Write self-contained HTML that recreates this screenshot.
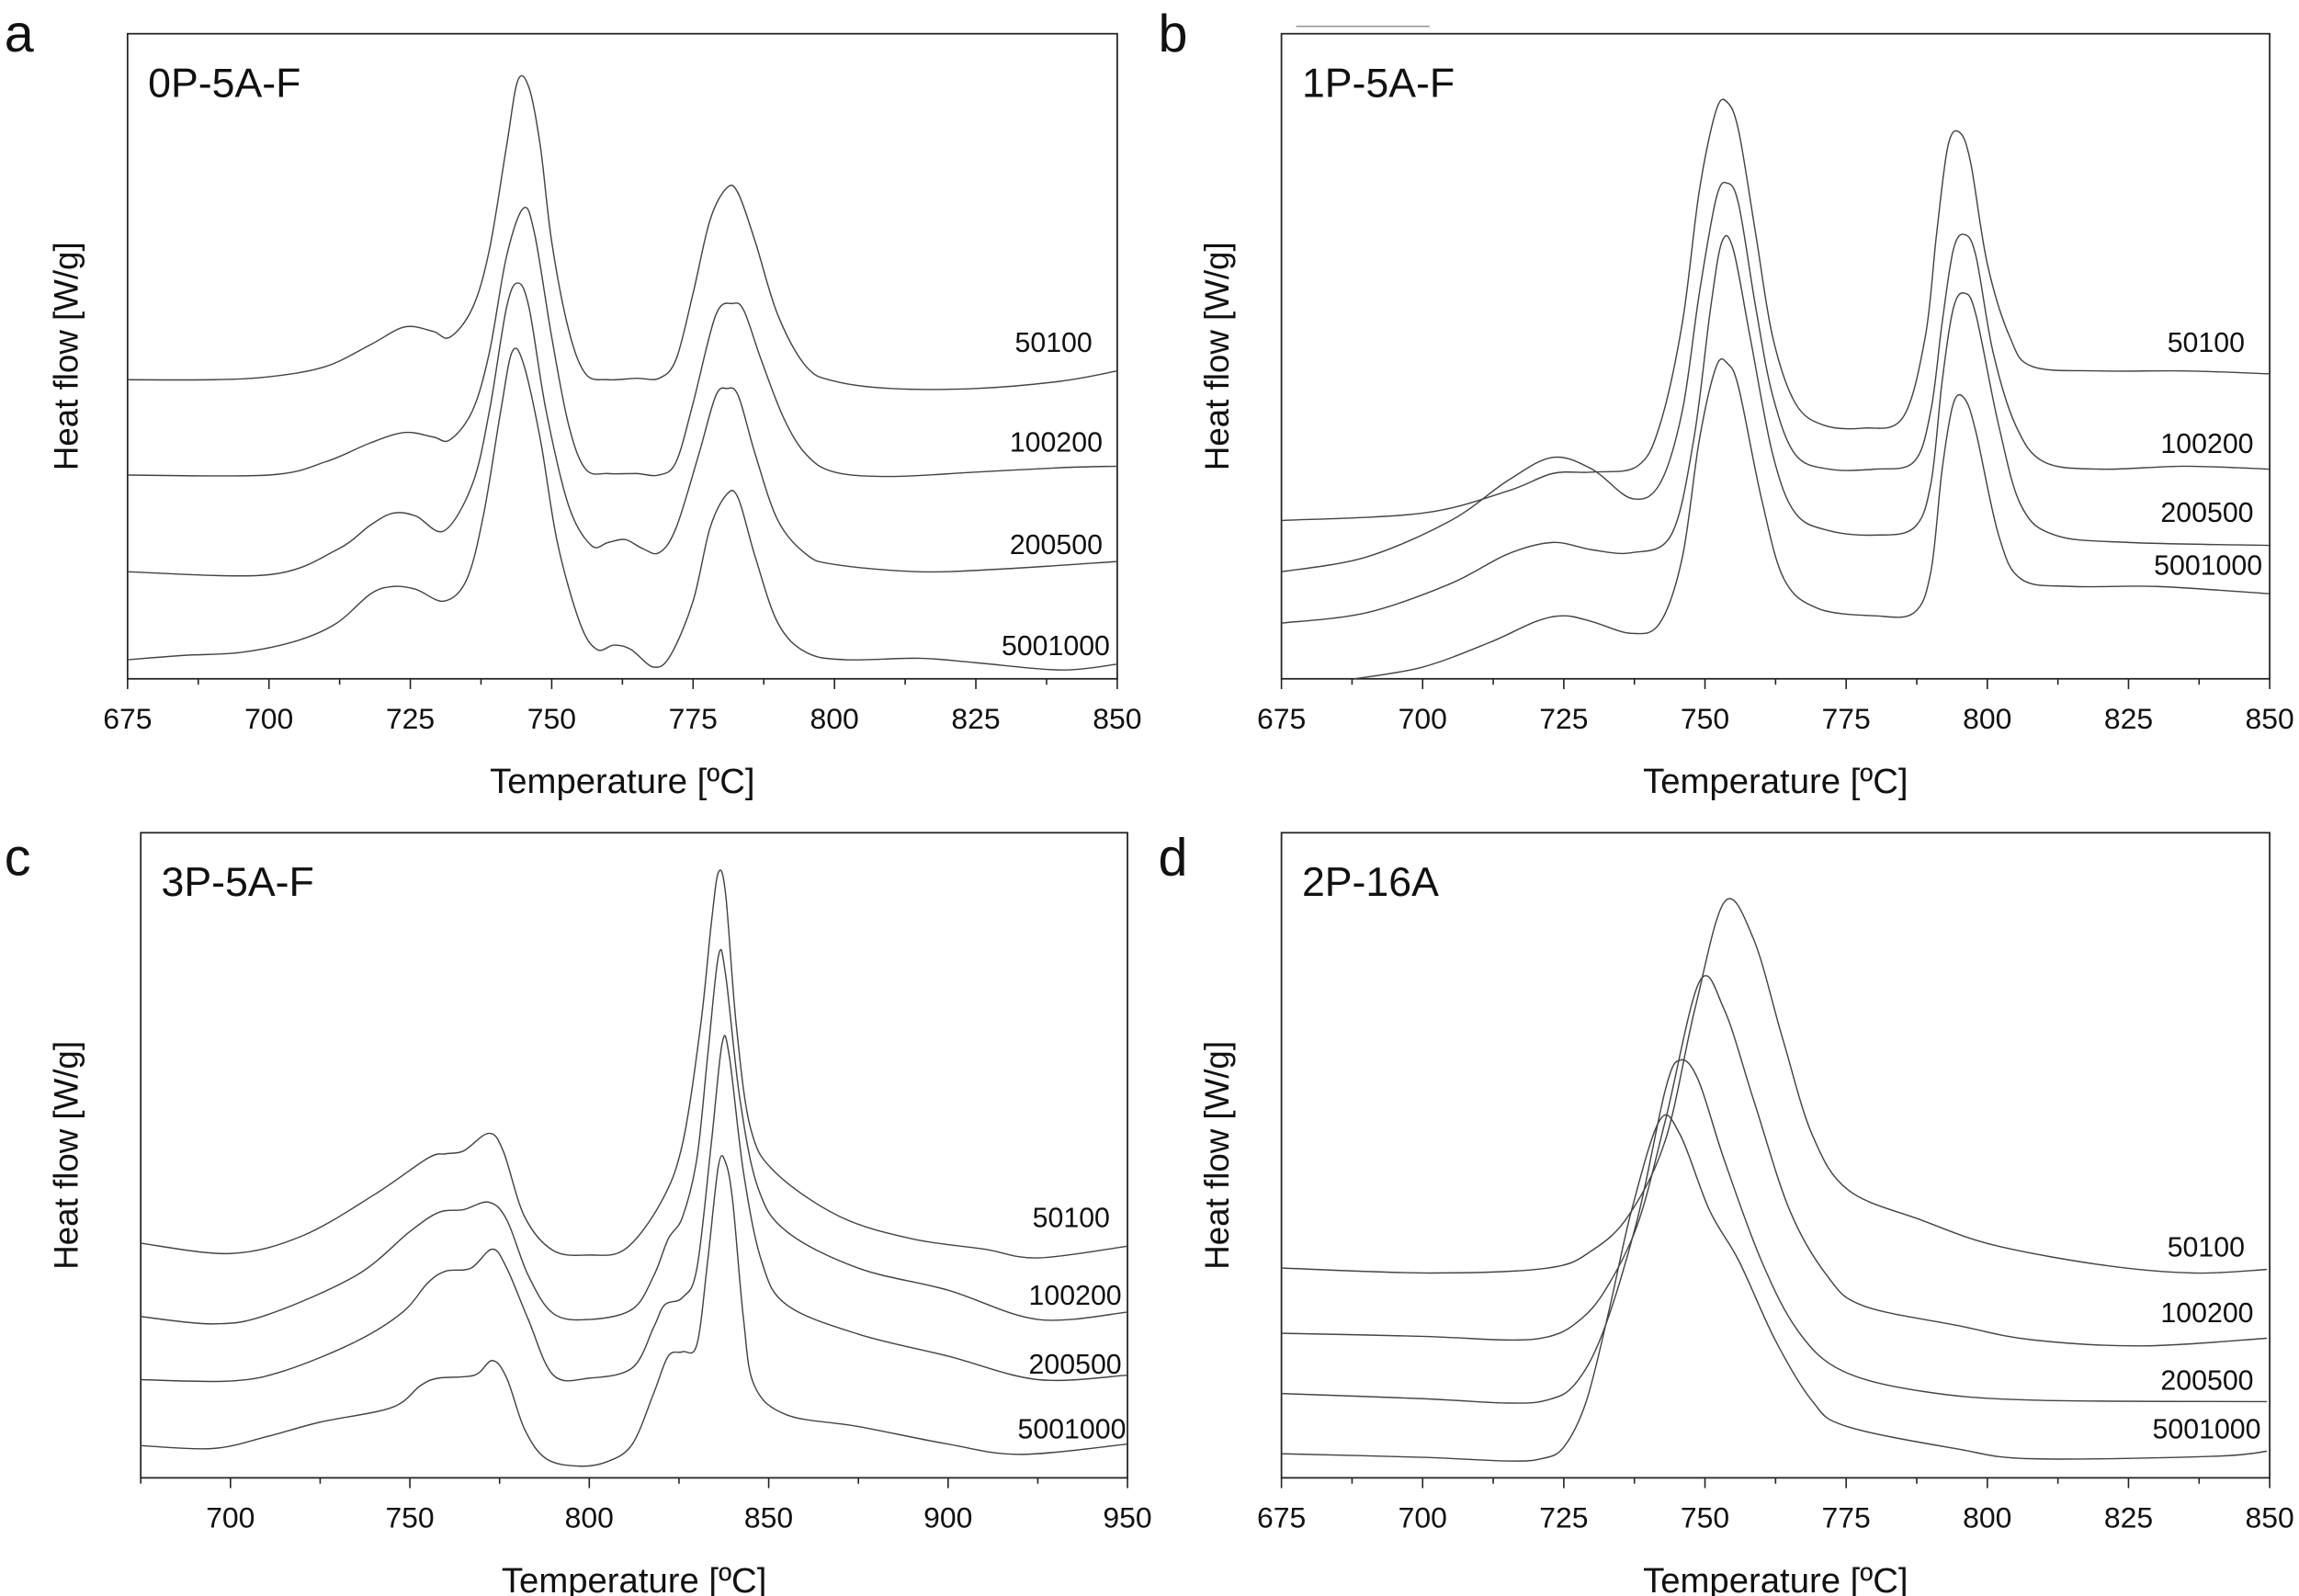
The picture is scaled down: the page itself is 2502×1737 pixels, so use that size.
<!DOCTYPE html>
<html><head><meta charset="utf-8"><style>
html,body{margin:0;padding:0;background:#fff;}
svg{display:block;}
text{font-family:"Liberation Sans",Arial,sans-serif;fill:#111;}
</style></head>
<body>
<svg id="fig" width="2502" height="1737" viewBox="0 0 1568 1088.6" preserveAspectRatio="none" xmlns="http://www.w3.org/2000/svg">
<line x1="884" y1="18" x2="975" y2="18" stroke="#999" stroke-width="1"/>
</svg>
<script>
// ---- Panel a: 0P-5A-F ----
const aT50100=[675,690,700,710,718,724,729,732,736,739,742,744,746,748,750,753,756,760,765,769,772,775,778,781,783,786,790,795,800,810,825,840,850];
const aV50100=[204,204,206,213,228,240,237,233,253,293,363,408,403,363,298,238,208,204,205,205,218,263,313,335,331,298,248,213,203,198,198,203,210];
const aT100200=[675,700,710,718,724,729,732,736,739,742,745,747,750,753,756,760,765,769,772,775,779,782,784,787,791,795,800,810,825,840,850];
const aV100200=[139,139,148,161,168,165,163,183,223,288,321,303,233,173,143,140,140,139,148,188,248,256,251,218,178,153,141,138,141,144,145];
const aT200500=[675,700,712,718,722,726,731,736,739,742,744,746,749,753,757,760,763,766,769,772,776,779,781,783,786,790,795,800,815,830,850];
const aV200500=[73,71,88,105,113,111,101,133,183,253,270,253,183,118,91,93,95,89,86,103,153,193,198,193,153,108,85,78,73,75,80];
const aT5001000=[675,685,695,705,712,718,722,726,731,735,738,741,743,745,748,751,755,758,761,764,768,771,775,778,781,783,786,790,795,802,815,825,840,850];
const aV5001000=[13,16,18,26,38,58,63,61,53,68,113,183,223,215,163,93,38,20,23,20,8,16,53,103,126,123,83,38,18,13,14,11,6,10];
// ---- Panel b: 1P-5A-F ----
const bT50100=[675,700,715,723,730,738,742,746,749,752,754,756,759,762,766,771,778,785,789,791,793,795,797,800,804,808,820,835,850];
const bV50100=[108,113,128,140,141,145,173,243,333,388,393,373,303,233,188,173,171,178,233,303,363,373,353,283,233,213,210,210,208];
const bT100200=[675,690,705,715,723,730,737,742,746,749,752,754,756,759,762,766,772,780,787,790,792,794,796,798,801,805,810,820,835,850];
const bV100200=[73,83,108,135,151,143,123,133,183,263,328,338,323,253,193,153,143,143,148,183,243,293,303,288,223,173,148,143,145,143];
const bT200500=[675,690,705,715,723,730,737,744,748,751,753,755,758,762,766,772,780,787,790,792,794,796,798,802,806,812,825,850];
const bV200500=[38,45,65,85,93,88,86,98,163,253,298,293,233,153,113,101,98,103,133,203,253,263,248,173,118,98,93,91];
const bT5001000=[688,700,712,720,725,730,737,742,746,749,752,754,756,760,764,770,780,787,790,792,794,796,798,802,806,815,830,850];
const bV5001000=[0,8,25,39,43,39,31,38,83,163,213,215,198,123,68,48,43,45,73,143,188,191,168,98,68,63,63,58];
// ---- Panel c: 3P-5A-F ----
const cT50100=[675,700,720,740,755,760,765,772,776,782,790,800,810,820,826,831,834,836,838,841,845,852,870,890,910,925,950];
const cV50100=[160,153,165,193,218,221,223,235,223,178,155,152,156,188,228,308,378,413,398,308,238,208,178,163,156,150,158];
const cT100200=[675,695,710,735,750,758,765,772,777,783,790,800,812,818,822,826,830,833,836,838,842,847,855,875,900,925,950];
const cV100200=[110,105,111,138,168,181,183,188,176,138,112,108,115,138,163,178,218,288,356,343,258,198,168,143,128,108,113];
const cT200500=[675,700,715,735,748,755,760,767,773,777,783,790,800,812,818,821,826,830,834,837,839,843,848,855,875,900,925,950];
const cV200500=[67,66,73,93,113,133,141,143,156,143,108,70,68,75,103,118,123,143,228,296,288,208,148,118,98,83,67,70];
const cT5001000=[675,695,710,725,745,753,758,768,773,777,782,788,797,805,812,818,822,826,830,833,836,838,840,843,846,855,875,900,920,950];
const cV5001000=[22,20,28,38,48,63,68,70,80,68,33,13,8,11,23,58,83,86,91,148,213,215,188,108,63,43,35,23,16,23];
// ---- Panel d: 2P-16A ----
const dT50100=[675,701.4,722.2,730,736.5,743,748.2,753.5,758.6,763.8,769,775.4,788.4,801.4,821,836.6,849.5];
const dV50100=[143.1,139.7,143.1,155.1,179.1,230.5,319.5,393.1,367.5,299,233.9,196.2,175.7,158.5,144.8,139.7,142.1];
const dT100200=[675,700,715,722,727,732,738,743,749,753.4,758.6,765,771.6,778,795,808,827.5,849.5];
const dV100200=[98.6,96.5,94,96,105,126,172.2,244,338.3,319.5,257.9,182.5,138,117.4,103.7,94.1,90,95.2];
const dT200500=[675,700,715,722,727,732,738,743,745.6,748.8,753.4,760,766.5,774.3,788.5,808,849.5];
const dV200500=[57.5,54,51,53,64,100,176,265,285,271.5,217,148,100,73,59,53,52];
const dT5001000=[675,700,715,721,725,729,733,737,742,745.6,750.8,756,762.5,769,775,794.6,808,840,849.5];
const dV5001000=[16.4,14,11.5,13,21,52.4,114,182.5,244,234,182.5,148,93.5,52.4,35.2,19.8,13,14.7,18.1];

const seriesNames=['50100','100200','200500','5001000'];
const ticksA=[675,700,725,750,775,800,825,850];
const ticksC=[700,750,800,850,900,950];

const NS='http://www.w3.org/2000/svg';
const svg=document.getElementById('fig');
function mk(tag,attrs,parent){const e=document.createElementNS(NS,tag);for(const k in attrs)e.setAttribute(k,attrs[k]);(parent||svg).appendChild(e);return e;}

const panels=[
 {id:'a',title:'0P-5A-F',L:87,R:762,T:23,B:463,x0:675,x1:850,ticks:ticksA,minor:12.5,
  series:[[aT50100,aV50100],[aT100200,aV100200],[aT200500,aV200500],[aT5001000,aV5001000]],
  labY:[240,308,378,447],labX:[745,752,752,757],letterX:3,letterY:35,yTitleX:53},
 {id:'b',title:'1P-5A-F',L:874,R:1548,T:23,B:463,x0:675,x1:850,ticks:ticksA,minor:12.5,
  series:[[bT50100,bV50100],[bT100200,bV100200],[bT200500,bV200500],[bT5001000,bV5001000]],
  labY:[240,309,356,392],labX:[1531,1537,1537,1543],letterX:790,letterY:35,yTitleX:838},
 {id:'c',title:'3P-5A-F',L:96,R:769,T:568,B:1008,x0:675,x1:950,ticks:ticksC,minor:25,
  series:[[cT50100,cV50100],[cT100200,cV100200],[cT200500,cV200500],[cT5001000,cV5001000]],
  labY:[837,890,937,981],labX:[757,765,765,768],letterX:3,letterY:597,yTitleX:53},
 {id:'d',title:'2P-16A',L:874,R:1548,T:568,B:1008,x0:675,x1:850,ticks:ticksA,minor:12.5,
  series:[[dT50100,dV50100],[dT100200,dV100200],[dT200500,dV200500],[dT5001000,dV5001000]],
  labY:[857,902,948,981],labX:[1531,1537,1537,1542],letterX:790,letterY:597,yTitleX:838}
];

function smoothPath(pts){
  let d='M'+pts[0][0].toFixed(2)+','+pts[0][1].toFixed(2);
  for(let i=0;i<pts.length-1;i++){
    const p0=pts[Math.max(0,i-1)],p1=pts[i],p2=pts[i+1],p3=pts[Math.min(pts.length-1,i+2)];
    const c1x=p1[0]+(p2[0]-p0[0])/6,c1y=p1[1]+(p2[1]-p0[1])/6;
    const c2x=p2[0]-(p3[0]-p1[0])/6,c2y=p2[1]-(p3[1]-p1[1])/6;
    d+=' C'+c1x.toFixed(2)+','+c1y.toFixed(2)+' '+c2x.toFixed(2)+','+c2y.toFixed(2)+' '+p2[0].toFixed(2)+','+p2[1].toFixed(2);
  }
  return d;
}

panels.forEach(p=>{
  const g=mk('g',{});
  
  
  const xS=t=>p.L+(t-p.x0)/(p.x1-p.x0)*(p.R-p.L);
  const yS=v=>p.B-v;
  const frame=mk('rect',{x:p.L,y:p.T,width:p.R-p.L,height:p.B-p.T,fill:'none',stroke:'#222','stroke-width':1.1},g);
  
  
  for(let t=p.x0;t<=p.x1+0.01;t+=p.minor){
    const isMajor=p.ticks.some(k=>Math.abs(k-t)<0.01);
    const tk=mk('line',{x1:xS(t),x2:xS(t),y1:p.B,y2:p.B+(isMajor?7:4),stroke:'#222','stroke-width':1},g);
    
    
  }
  p.ticks.forEach(t=>{
    const tl=mk('text',{x:xS(t),y:p.B+34,'font-size':20,'text-anchor':'middle'},g);
    tl.textContent=t;
    
    
  });
  const xt=mk('text',{x:(p.L+p.R)/2,y:p.B+78,'font-size':24,'text-anchor':'middle'},g);
  xt.textContent='Temperature [ºC]';
  
  
  const yt=mk('text',{x:0,y:0,'font-size':23,'text-anchor':'middle',transform:'translate('+p.yTitleX+','+((p.T+p.B)/2)+') rotate(-90)'},g);
  yt.textContent='Heat flow [W/g]';
  
  
  const lt=mk('text',{x:p.letterX,y:p.letterY,'font-size':36},g);
  lt.textContent=p.id;
  
  
  const tt=mk('text',{x:p.L+14,y:p.T+43,'font-size':28},g);
  tt.textContent=p.title;
  
  
  p.series.forEach((s,i)=>{
    const pts=s[0].map((t,j)=>[xS(t),yS(s[1][j])]);
    const path=mk('path',{d:smoothPath(pts),fill:'none',stroke:'#444','stroke-width':0.9},g);
    
    
    const lab=mk('text',{x:p.labX[i],y:p.labY[i],'font-size':19,'text-anchor':'end'},g);
    lab.textContent=seriesNames[i];
    
    
  });
});
</script>
</body></html>
